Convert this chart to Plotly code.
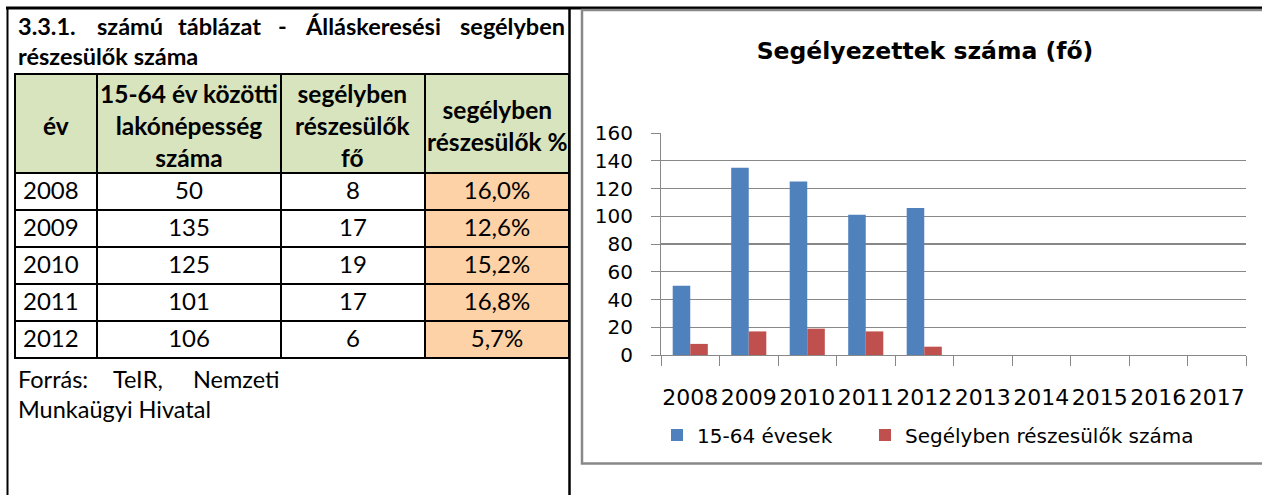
import plotly.graph_objects as go

W, H = 1262, 495

# ---------------- data ----------------
years = ["2008", "2009", "2010", "2011", "2012"]
population = [50, 135, 125, 101, 106]          # 15-64 év közötti lakónépesség száma
recipients = [8, 17, 19, 17, 6]                 # segélyben részesülők fő
chart_years = ["2008", "2009", "2010", "2011", "2012",
               "2013", "2014", "2015", "2016", "2017"]

table_title_line1 = ["3.3.1.", "számú", "táblázat", "-", "Álláskeresési", "segélyben"]
table_title_line2 = "részesülők száma"
header_labels = ["év", "15-64 év közötti<br>lakónépesség<br>száma",
                 "segélyben<br>részesülők<br>fő", "segélyben<br>részesülők %"]
source_line1 = ["Forrás:", "TeIR,", "Nemzeti"]
source_line2 = "Munkaügyi Hivatal"
chart_title = "Segélyezettek száma (fő)"
series_names = ["15-64 évesek", "Segélyben részesülők száma"]

percent = [f"{100 * r / p:.1f}%".replace(".", ",") for r, p in zip(recipients, population)]


def px(x):
    return x / W


def py(y):
    return 1 - y / H


TFONT = "Lato"
CFONT = "DejaVu Sans"

fig = go.Figure()

# ---------------- table ----------------
col_edges = [15, 97, 281, 425, 569]
col_widths = [b - a for a, b in zip(col_edges[:-1], col_edges[1:])]
fig.add_trace(go.Table(
    domain=dict(x=[px(col_edges[0]), px(col_edges[-1])], y=[py(400), py(74)]),
    columnwidth=col_widths,
    header=dict(
        values=["", "", "", ""],
        fill_color="#D7E4BD",
        line=dict(color="black", width=2),
        align="center",
        height=99,
        font=dict(family=TFONT, size=24, color="black"),
    ),
    cells=dict(
        values=[years, population, recipients, percent],
        fill_color=[["white"] * 5, ["white"] * 5, ["white"] * 5, ["#FCD2A6"] * 5],
        line=dict(color="black", width=2),
        align=["left", "center", "center", "center"],
        height=37,
        font=dict(family=TFONT, size=24, color="black"),
    ),
))

# ---------------- chart ----------------
blue_vals = population + [None] * (len(chart_years) - len(years))
red_vals = recipients + [None] * (len(chart_years) - len(years))

fig.add_trace(go.Bar(x=chart_years, y=blue_vals, name=series_names[0], legendwidth=163,
                     marker=dict(color="#4F81BD", line=dict(width=0))))
fig.add_trace(go.Bar(x=chart_years, y=red_vals, name=series_names[1], legendwidth=330,
                     marker=dict(color="#C0504D", line=dict(width=0))))

annotations = []


def note(text, x, y, size, anchor="left", align="left"):
    annotations.append(dict(text=text, x=px(x), y=py(y), xref="paper", yref="paper",
                            xanchor=anchor, yanchor="middle", align=align, showarrow=False,
                            borderpad=0, font=dict(family=TFONT, size=size, color="black")))


# table title words (justified line)
title_x = [17, 96, 177, 277, 304]
for word, x in zip(table_title_line1[:-1], title_x):
    note("<b>" + word + "</b>", x, 26, 23.5)
note("<b>" + table_title_line1[-1] + "</b>", 566, 26, 23.5, anchor="right")
note("<b>" + table_title_line2 + "</b>", 17, 56, 23.5)

# table header labels (centred in the header cells)
for i, lab in enumerate(header_labels):
    cx = (col_edges[i] + col_edges[i + 1]) / 2
    note("<b>" + lab + "</b>", cx, 126, 24.5, anchor="center", align="center")

# source
src_x = [17, 112, 192]
for word, x in zip(source_line1, src_x):
    note(word, x, 379, 23.5)
note(source_line2, 17, 409, 23.5)

shapes = [
    # page frame lines
    dict(type="line", xref="paper", yref="paper", x0=px(6), x1=px(1262), y0=py(8), y1=py(8),
         line=dict(color="black", width=3)),
    dict(type="line", xref="paper", yref="paper", x0=px(7.5), x1=px(7.5), y0=py(7), y1=py(495),
         line=dict(color="black", width=2)),
    dict(type="line", xref="paper", yref="paper", x0=px(569.5), x1=px(569.5), y0=py(7), y1=py(495),
         line=dict(color="black", width=2.5)),
    # chart border
    dict(type="rect", xref="paper", yref="paper", x0=px(582), x1=px(1268), y0=py(463.5), y1=py(10),
         line=dict(color="#888888", width=2.5)),
]

fig.update_layout(
    width=W, height=H, autosize=False,
    margin=dict(l=0, r=0, t=0, b=0, pad=0, autoexpand=False),
    paper_bgcolor="white", plot_bgcolor="white",
    showlegend=True, hovermode=False,
    barmode="group", bargap=0.4, bargroupgap=0,
    title=dict(text="<b>" + chart_title + "</b>", x=px(925), xanchor="center", xref="paper",
               y=py(51), yanchor="middle", yref="paper", automargin=False,
               font=dict(family=CFONT, size=23.5, color="black")),
    xaxis=dict(domain=[px(661), px(1246)], type="category", categoryorder="array",
               categoryarray=chart_years, showline=True, linecolor="#888888", linewidth=1,
               ticks="outside", tickson="boundaries", ticklen=10, tickcolor="#888888",
               showgrid=False, ticklabelstandoff=23, tickangle=0, automargin=False,
               tickfont=dict(family=CFONT, size=22, color="black"), fixedrange=True),
    yaxis=dict(domain=[py(355), py(133)], range=[0, 160], dtick=20, showline=True,
               linecolor="#888888", linewidth=1, ticks="outside", ticklen=9, tickcolor="#888888",
               showgrid=True, gridcolor="#888888", gridwidth=1.2, zeroline=False,
               ticklabelstandoff=14, automargin=False,
               tickfont=dict(family=CFONT, size=20, color="black"), fixedrange=True),
    legend=dict(orientation="h", x=px(657), xanchor="left", y=py(435), yanchor="middle",
                font=dict(family=CFONT, size=20, color="black"),
                bgcolor="rgba(0,0,0,0)", borderwidth=0),
    annotations=annotations,
    shapes=shapes,
)

page_fix = (
    "var d=document.getElementById('{plot_id}');"
    "d.style.position='fixed';d.style.top='0px';d.style.left='0px';"
    "document.body.style.margin='0px';document.body.style.overflow='hidden';"
    "document.documentElement.style.overflow='hidden';"
)

fig.write_html("out.html", config={"displayModeBar": False, "staticPlot": True},
               post_script=page_fix)
